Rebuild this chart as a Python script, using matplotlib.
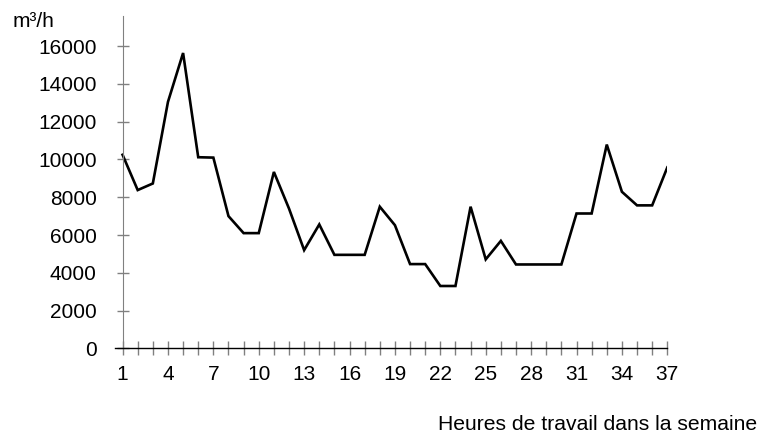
import matplotlib
matplotlib.use('Agg')
import matplotlib.pyplot as plt
import numpy as np

# hours of work in the week and the flow (m3/h)
hours = list(range(1, 38))
flow = [10250, 8380, 8730, 13050, 15640, 10120, 10100, 7000, 6100, 6100,
        9340, 7400, 5200, 6560, 4950, 4950, 4950, 7500, 6520, 4460,
        4460, 3300, 3300, 7500, 4710, 5690, 4440, 4440, 4440, 4440,
        7140, 7140, 10790, 8290, 7570, 7570, 9580]
ytick_vals = list(range(0, 16001, 2000))
xtick_labels = list(range(1, 38, 3))

plt.rcParams['font.family'] = ['Liberation Sans', 'DejaVu Sans']

fig = plt.figure(figsize=(7.64, 4.34), dpi=100)
ax = fig.add_axes([115 / 764, 85.7 / 434, 552.3 / 764, 332.3 / 434])

ax.plot(hours, flow, color='black', lw=1.9, solid_joinstyle='miter')

ax.set_xlim(0.5, 37)
ax.set_ylim(0, 17600)

ax.spines['top'].set_visible(False)
ax.spines['right'].set_visible(False)
ax.spines['left'].set_position(('data', 1))
ax.spines['left'].set_color('#808080')
ax.spines['bottom'].set_color('black')
ax.spines['bottom'].set_linewidth(1.0)

ax.set_yticks(ytick_vals)
ax.set_yticklabels([str(v) for v in ytick_vals])
ax.set_xticks(hours)
ax.set_xticklabels([str(h) if h in xtick_labels else '' for h in hours])

ax.tick_params(axis='y', direction='inout', length=9, width=1, color='#808080',
               labelsize=15, pad=14)
ax.tick_params(axis='x', direction='inout', length=10.5, width=1, color='#808080',
               labelsize=15, pad=7)

fig.text(12.5 / 764, 1 - 27.3 / 434, 'm³/h', fontsize=15, ha='left', va='baseline')
fig.text(438 / 764, 1 - 430.3 / 434, 'Heures de travail dans la semaine',
         fontsize=15.2, ha='left', va='baseline')

fig.savefig('out.png', dpi=100, facecolor='white')
